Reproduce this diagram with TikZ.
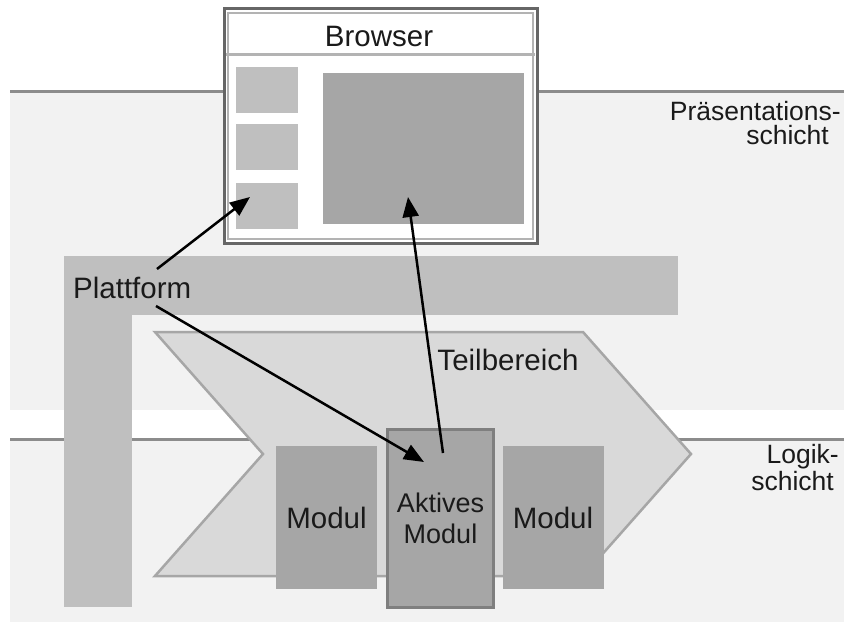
\documentclass[tikz,border=0pt]{standalone}
\usepackage{fontspec}
\setmainfont{Liberation Sans}
\usetikzlibrary{arrows.meta}
\definecolor{bandfill}{HTML}{F2F2F2}
\definecolor{bandline}{HTML}{8C8C8C}
\definecolor{platgray}{HTML}{BFBFBF}
\definecolor{chevfill}{HTML}{D9D9D9}
\definecolor{chevline}{HTML}{A6A6A6}
\definecolor{modgray}{HTML}{A6A6A6}
\definecolor{activeline}{HTML}{7F7F7F}
\definecolor{frameline}{HTML}{666666}
\definecolor{frameinner}{HTML}{B3B3B3}
\definecolor{txt}{HTML}{1A1A1A}
\begin{document}
\begin{tikzpicture}[x=1pt,y=-1pt,
  font=\fontsize{29.5}{30}\selectfont,
  every node/.append style={text=txt},
  label/.style={inner sep=0pt},
  layerlabel/.style={inner sep=0pt, anchor=east, font=\fontsize{26.5}{24}\selectfont},
  module/.style={fill=modgray, inner sep=0pt, minimum width=101pt, minimum height=143pt, align=center},
  activemodule/.style={fill=modgray, draw=activeline, line width=3pt, inner sep=0pt,
    minimum width=106pt, minimum height=178pt, align=center,
    font=\fontsize{27}{31}\selectfont},
  conn/.style={line width=2.5pt, -{Triangle[length=20pt,width=16pt]}}
]
\useasboundingbox (0,0) rectangle (844,623);

% layer bands
\fill[bandfill] (10,92) rectangle (844,410);
\fill[bandfill] (10,439) rectangle (844,622);
\draw[bandline, line width=3pt] (10,92) -- (844,92);
\draw[bandline, line width=3pt] (10,439) -- (844,439);

% platform (L-shaped bar)
\fill[platgray] (64,256) rectangle (678,315);
\fill[platgray] (64,256) rectangle (132,607);

% sub-area chevron
\draw[chevline, fill=chevfill, line width=2.5pt, line join=miter]
  (155,332) -- (583,332) -- (691,454) -- (583,576) -- (155,576) -- (263,454) -- cycle;

% modules
\node[module] (modL) at (326.5,517.5) {Modul};
\node[module] (modR) at (553,517.5) {Modul};
\node[activemodule] (modA) at (440.5,518.5) {Aktives\\Modul};

% browser window
\fill[white] (224,9) rectangle (537,243);
\draw[frameinner, line width=2pt] (228,13) rectangle (533,239);
\draw[frameinner, line width=3pt] (226,55) -- (535,55);
\draw[frameline, line width=3pt] (224,9) rectangle (537,243);
\node[label] (browser) at (379,36) {Browser};
\fill[platgray] (236,67) rectangle (298,113);
\fill[platgray] (236,124) rectangle (298,170);
\fill[platgray] (236,183) rectangle (298,229);
\fill[modgray] (323,73) rectangle (524,224);

% labels
\node[label, anchor=west] (plat) at (73,288) {Plattform};
\node[label] (teil) at (508,360) {Teilbereich};
\node[layerlabel] (praes1) at (841,111) {Präsentations-};
\node[layerlabel] (praes2) at (829,135) {schicht};
\node[layerlabel] (logik1) at (839,457) {Logik-};
\node[layerlabel] (logik2) at (834,481) {schicht};

% connector end points
\coordinate (platUp) at (157,269);
\coordinate (platDown) at (156,306);
\coordinate (navBox) at (250,197);
\coordinate (contentBox) at (408,197);
\coordinate (activeIn) at (424,462);
\coordinate (activeOut) at (443,453);

% connectors
\draw[conn] (platUp) -- (navBox);
\draw[conn] (platDown) -- (activeIn);
\draw[conn] (activeOut) -- (contentBox);
\end{tikzpicture}
\end{document}
